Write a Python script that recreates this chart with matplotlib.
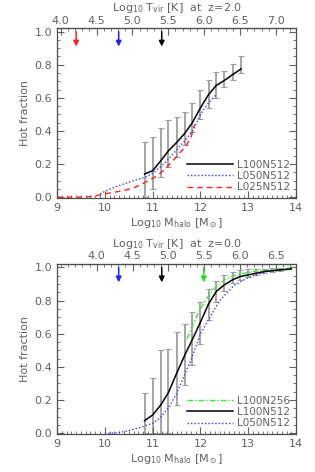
import matplotlib
matplotlib.use("Agg")
import matplotlib.pyplot as plt
from matplotlib.ticker import MultipleLocator

# ---- z = 2.0 panel ----
z2_mass_100 = [10.83, 11.0, 11.17, 11.33, 11.5, 11.67, 11.83, 12.0, 12.17, 12.33, 12.5, 12.67, 12.85]
z2_frac_100 = [0.14, 0.16, 0.22, 0.28, 0.33, 0.385, 0.45, 0.54, 0.62, 0.675, 0.705, 0.74, 0.775]
z2_lo_100 = [0.0, 0.05, 0.12, 0.18, 0.245, 0.315, 0.395, 0.47, 0.54, 0.60, 0.665, 0.705, 0.75]
z2_hi_100 = [0.335, 0.365, 0.415, 0.465, 0.485, 0.515, 0.57, 0.645, 0.705, 0.755, 0.765, 0.805, 0.855]

z2_mass_050 = [9.9, 10.0, 10.2, 10.4, 10.6, 10.85, 11.0, 11.15, 11.3, 11.5, 11.7, 11.85, 12.0, 12.17, 12.33]
z2_frac_050 = [0.02, 0.035, 0.06, 0.08, 0.10, 0.12, 0.145, 0.18, 0.22, 0.285, 0.35, 0.405, 0.5, 0.57, 0.62]

z2_mass_025 = [9.0, 9.5, 9.75, 10.0, 10.3, 10.6, 10.95, 11.1, 11.28, 11.5, 11.7, 11.8, 11.88]
z2_frac_025 = [0.0, 0.0, 0.005, 0.02, 0.035, 0.055, 0.105, 0.13, 0.175, 0.245, 0.31, 0.36, 0.44]

z2_arrow_mass = [9.4, 10.29, 11.19]
z2_arrow_color = ["#ff2020", "#2020ff", "black"]

# ---- z = 0.0 panel ----
z0_mass_100 = [10.83, 11.0, 11.17, 11.33, 11.5, 11.67, 11.83, 12.0, 12.17, 12.33, 12.5,
               12.67, 12.83, 13.0, 13.17, 13.33, 13.5, 13.67, 13.9]
z0_frac_100 = [0.075, 0.11, 0.17, 0.245, 0.36, 0.47, 0.565, 0.67, 0.78, 0.855, 0.895,
               0.925, 0.945, 0.955, 0.965, 0.975, 0.98, 0.985, 0.99]
z0_err_mass = z0_mass_100[:18]
z0_err_mid = z0_frac_100[:18]
z0_lo_100 = [0.0, 0.0, 0.0, 0.0, 0.17, 0.29, 0.41, 0.54, 0.68, 0.79, 0.86, 0.905,
             0.925, 0.94, 0.955, 0.965, 0.975, 0.98]
z0_hi_100 = [0.245, 0.335, 0.50, 0.51, 0.61, 0.66, 0.73, 0.79, 0.87, 0.92, 0.955, 0.97,
             0.985, 0.99, 0.99, 0.99, 0.995, 0.995]

z0_mass_256 = [11.72, 11.85, 12.0, 12.15, 12.3, 12.5, 12.75, 13.0, 13.25, 13.5, 13.75, 13.95]
z0_frac_256 = [0.57, 0.66, 0.75, 0.82, 0.875, 0.925, 0.955, 0.97, 0.98, 0.985, 0.99, 1.0]

z0_mass_050 = [10.0, 10.2, 10.5, 10.8, 11.0, 11.15, 11.35, 11.5, 11.65, 11.8, 12.0, 12.2,
               12.4, 12.7, 13.0, 13.4, 13.7, 13.95]
z0_frac_050 = [0.0, 0.0, 0.015, 0.04, 0.06, 0.09, 0.16, 0.24, 0.34, 0.44, 0.6, 0.7,
               0.8, 0.89, 0.94, 0.975, 0.985, 0.995]

z0_arrow_mass = [10.29, 11.19, 12.07]
z0_arrow_color = ["#2020ff", "black", "#22dd22"]

TXT = "0.38"
RED = "#ff2020"
BLUE = "#3a3aff"
GREEN = "#33ee33"

plt.rcParams["font.family"] = "DejaVu Sans"
plt.rcParams["font.size"] = 8

fig = plt.figure(figsize=(3.15, 4.72), dpi=100)
ax1 = fig.add_axes([0.181, 0.5805, 0.759, 0.3595])
ax2 = fig.add_axes([0.181, 0.0805, 0.759, 0.36])


def style_axes(ax, m2t, t2m, zlabel, tticks):
    ax.set_xlim(9, 14)
    ax.set_ylim(-0.005, 1.02)
    ax.xaxis.set_major_locator(MultipleLocator(1))
    ax.xaxis.set_minor_locator(MultipleLocator(0.1))
    ax.yaxis.set_major_locator(MultipleLocator(0.2))
    ax.yaxis.set_minor_locator(MultipleLocator(0.05))
    ax.tick_params(which="both", direction="in", right=True, top=False, colors=TXT,
                   labelcolor=TXT, labelsize=8)
    ax.tick_params(which="major", length=5, width=0.8)
    ax.tick_params(which="minor", length=2.5, width=0.6)
    ax.yaxis.set_major_formatter(matplotlib.ticker.FormatStrFormatter("%.1f"))
    for s in ax.spines.values():
        s.set_color("0.3")
        s.set_linewidth(0.9)
    ax.set_xlabel(r"Log$_{10}$ M$_{\rm halo}$ [M$_\odot$]", color=TXT, fontsize=8, labelpad=2)
    ax.set_ylabel("Hot fraction", color=TXT, fontsize=8, labelpad=3)
    sec = ax.secondary_xaxis("top", functions=(m2t, t2m))
    sec.set_xticks(tticks)
    sec.xaxis.set_major_formatter(matplotlib.ticker.FormatStrFormatter("%.1f"))
    sec.xaxis.set_minor_locator(MultipleLocator(0.1))
    sec.tick_params(which="both", direction="in", colors=TXT, labelcolor=TXT, labelsize=8, pad=2)
    sec.tick_params(which="major", length=5, width=0.8)
    sec.tick_params(which="minor", length=2.5, width=0.6)
    sec.spines["top"].set_color("0.3")
    sec.set_xlabel(r"Log$_{10}$ T$_{\rm vir}$ [K]  at  " + zlabel, color=TXT, fontsize=8, labelpad=3)


def arrows(ax, masses, colors):
    for m, c in zip(masses, colors):
        ax.annotate("", xy=(m, 0.91), xytext=(m, 1.0),
                    arrowprops=dict(arrowstyle="-|>", color=c, lw=1.1,
                                    mutation_scale=8, shrinkA=0, shrinkB=0))


def errbars(ax, x, mid, lo, hi):
    ax.errorbar(x, mid, yerr=[[m - l for m, l in zip(mid, lo)], [h - m for m, h in zip(mid, hi)]],
                fmt="none", ecolor="0.62", elinewidth=1.3, capsize=2, capthick=0.8, zorder=1)


def legend(ax):
    leg = ax.legend(loc="lower right", frameon=False, fontsize=7.5, handlelength=4.4,
                    handletextpad=0.4, labelspacing=0.12, borderaxespad=0.15,
                    bbox_to_anchor=(1.0, 0.0))
    for t in leg.get_texts():
        t.set_color(TXT)


# top panel (z=2)
style_axes(ax1, lambda m: (m - 3.077) / 1.5, lambda t: 1.5 * t + 3.077, "z=2.0",
           [4.0, 4.5, 5.0, 5.5, 6.0, 6.5, 7.0])
errbars(ax1, z2_mass_100, z2_frac_100, z2_lo_100, z2_hi_100)
ax1.plot(z2_mass_100, z2_frac_100, color="black", lw=1.1, label="L100N512", zorder=3)
ax1.plot(z2_mass_050, z2_frac_050, color=BLUE, lw=1.0, ls=(0, (1, 1.5)), label="L050N512", zorder=3)
ax1.plot(z2_mass_025, z2_frac_025, color=RED, lw=1.0, ls=(0, (4, 3)), label="L025N512", zorder=3)
arrows(ax1, z2_arrow_mass, z2_arrow_color)
legend(ax1)

# bottom panel (z=0)
style_axes(ax2, lambda m: (m - 3.83) / 1.5, lambda t: 1.5 * t + 3.83, "z=0.0",
           [4.0, 4.5, 5.0, 5.5, 6.0, 6.5])
errbars(ax2, z0_err_mass, z0_err_mid, z0_lo_100, z0_hi_100)
ax2.plot(z0_mass_256, z0_frac_256, color=GREEN, lw=1.0, ls=(0, (4, 1.5, 1, 1.5)), label="L100N256", zorder=3)
ax2.plot(z0_mass_100, z0_frac_100, color="black", lw=1.1, label="L100N512", zorder=4)
ax2.plot(z0_mass_050, z0_frac_050, color=BLUE, lw=1.0, ls=(0, (1, 1.5)), label="L050N512", zorder=3)
arrows(ax2, z0_arrow_mass, z0_arrow_color)
legend(ax2)

fig.savefig("out.png", dpi=100)
